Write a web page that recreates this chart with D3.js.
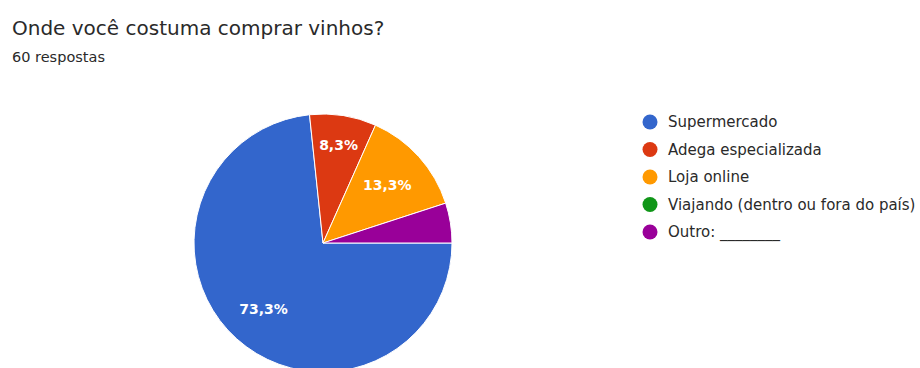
<!DOCTYPE html>
<html>
<head>
<meta charset="utf-8">
<script src="https://cdn.jsdelivr.net/npm/d3@7"></script>
<style>
  html, body { margin: 0; padding: 0; background: #fff; }
  svg { display: block; font-family: "DejaVu Sans", Arial, sans-serif; }
</style>
</head>
<body>
<svg id="chart" width="920" height="368"></svg>
<script>
// Survey answers: where people usually buy wine (60 responses)
const categories = ["Supermercado", "Adega especializada", "Loja online", "Viajando (dentro ou fora do país)", "Outro: ________"];
const counts = [44, 5, 8, 0, 3];
const colors = ["#3366cc", "#dc3912", "#ff9900", "#109618", "#990099"];
const title = "Onde você costuma comprar vinhos?";
const subtitle = "60 respostas";

const svg = d3.select("#chart");

svg.append("text")
  .attr("x", 12).attr("y", 35)
  .attr("font-size", 20)
  .attr("fill", "#2a2a2a")
  .text(title);

svg.append("text")
  .attr("x", 12).attr("y", 62)
  .attr("font-size", 14.5)
  .attr("fill", "#2a2a2a")
  .text(subtitle);

const cx = 323, cy = 243, R = 129;
const total = d3.sum(counts);

const data = categories.map((c, i) => ({ name: c, value: counts[i], color: colors[i] }));

// Slices start at 3 o'clock and run clockwise in legend order
const pie = d3.pie()
  .value(d => d.value)
  .sort(null)
  .startAngle(Math.PI / 2)
  .endAngle(Math.PI / 2 + 2 * Math.PI);

const arc = d3.arc().innerRadius(0).outerRadius(R);
const arcs = pie(data).filter(d => d.data.value > 0);

const g = svg.append("g").attr("transform", `translate(${cx},${cy})`);

g.selectAll("path.slice")
  .data(arcs)
  .join("path")
  .attr("class", "slice")
  .attr("d", arc)
  .attr("fill", d => d.data.color)
  .attr("stroke", "#fff")
  .attr("stroke-width", 1);

// Percentage labels; narrow slices get their label pushed outward
const fmt = v => (Math.round(v * 1000) / 10).toFixed(1).replace(".", ",") + "%";
g.selectAll("text.pct")
  .data(arcs.filter(d => d.data.value / total >= 0.06))
  .join("text")
  .attr("class", "pct")
  .attr("transform", d => {
    const share = d.data.value / total;
    const r = share < 0.1 ? R * 0.77 : (share < 0.2 ? R * 0.67 : R * 0.69);
    const a = (d.startAngle + d.endAngle) / 2;
    return `translate(${Math.sin(a) * r},${-Math.cos(a) * r})`;
  })
  .attr("text-anchor", "middle")
  .attr("dominant-baseline", "central")
  .attr("font-size", 14)
  .attr("font-weight", "bold")
  .attr("fill", "#fff")
  .text(d => fmt(d.data.value / total));

// Legend
const legend = svg.append("g").attr("transform", "translate(650,122)");
const item = legend.selectAll("g")
  .data(data)
  .join("g")
  .attr("transform", (d, i) => `translate(0,${i * 27.5})`);

item.append("circle")
  .attr("r", 7.5)
  .attr("fill", d => d.color);

item.append("text")
  .attr("x", 18)
  .attr("dominant-baseline", "central")
  .attr("font-size", 15)
  .attr("fill", "#2a2a2a")
  .text(d => d.name);
</script>
</body>
</html>
